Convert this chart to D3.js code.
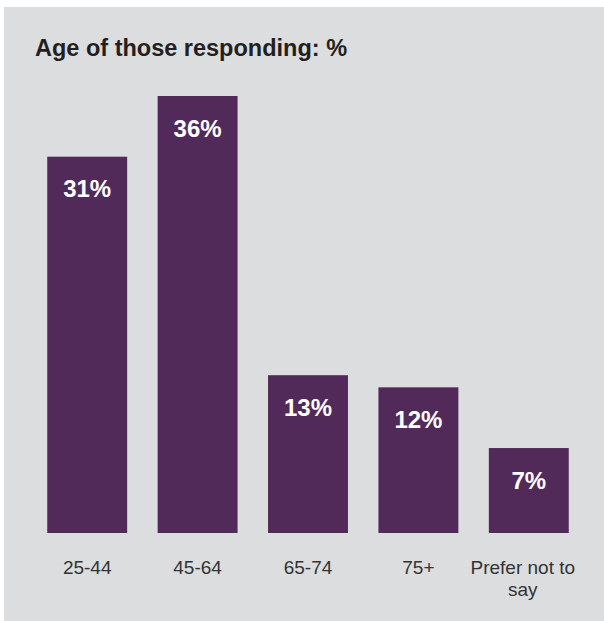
<!DOCTYPE html>
<html>
<head>
<meta charset="utf-8">
<script src="https://cdn.jsdelivr.net/npm/d3@7"></script>
<style>
  html, body { margin: 0; padding: 0; background: #ffffff; }
  svg { display: block; }
</style>
</head>
<body>
<svg id="chart" width="604" height="621"></svg>
<script>
const categories = ["25-44", "45-64", "65-74", "75+", "Prefer not to say"];
const values = [31, 36, 13, 12, 7];
const valueLabels = ["31%", "36%", "13%", "12%", "7%"];
const title = "Age of those responding: %";

const svg = d3.select("#chart");
const W = 604, H = 621;

svg.append("rect").attr("x", 4).attr("y", 7).attr("width", W - 4).attr("height", H - 7)
  .attr("fill", "#dcdddf");

svg.append("text").attr("x", 35).attr("y", 56)
  .attr("font-family", "Liberation Sans, Arial, Helvetica, sans-serif")
  .attr("font-weight", "bold").attr("font-size", "23.5px").attr("fill", "#231f20")
  .text(title);

const x = d3.scaleBand().domain(categories).range([32, 584])
  .paddingInner(0.276).paddingOuter(0.138);
const y = d3.scaleLinear().domain([0, 36]).range([533, 96]);

const g = svg.append("g");
g.selectAll("rect.bar").data(categories).join("rect")
  .attr("class", "bar")
  .attr("x", d => x(d))
  .attr("y", (d, i) => y(values[i]))
  .attr("width", x.bandwidth())
  .attr("height", (d, i) => y(0) - y(values[i]))
  .attr("fill", "#522a5a");

g.selectAll("text.val").data(categories).join("text")
  .attr("class", "val")
  .attr("x", d => x(d) + x.bandwidth() / 2)
  .attr("y", (d, i) => y(values[i]) + 40.5)
  .attr("text-anchor", "middle")
  .attr("font-family", "Liberation Sans, Arial, Helvetica, sans-serif")
  .attr("font-weight", "bold").attr("font-size", "24px").attr("fill", "#ffffff")
  .text((d, i) => valueLabels[i]);

// category axis (no line/ticks), labels wrapped
const axis = d3.axisBottom(x).tickSize(0).tickPadding(0);
const axG = svg.append("g").attr("transform", "translate(0,533)").call(axis);
axG.select(".domain").remove();
axG.selectAll(".tick text")
  .attr("font-family", "Liberation Sans, Arial, Helvetica, sans-serif")
  .attr("font-size", "19px").attr("fill", "#333333")
  .attr("y", 41).attr("dy", null)
  .each(function(d) {
    const t = d3.select(this);
    const words = d.split(" ");
    t.text(null);
    let line = [];
    let tspan = t.append("tspan").attr("x", 0).attr("y", 41);
    let lineNo = 0;
    words.forEach(w => {
      line.push(w);
      tspan.text(line.join(" "));
      if (tspan.node().getComputedTextLength() > 110 && line.length > 1) {
        line.pop();
        tspan.text(line.join(" "));
        line = [w];
        lineNo++;
        tspan = t.append("tspan").attr("x", 0).attr("y", 41 + lineNo * 21.6).text(w);
      }
    });
    if (lineNo > 0) t.selectAll("tspan").attr("x", -6);
  });
</script>
</body>
</html>
